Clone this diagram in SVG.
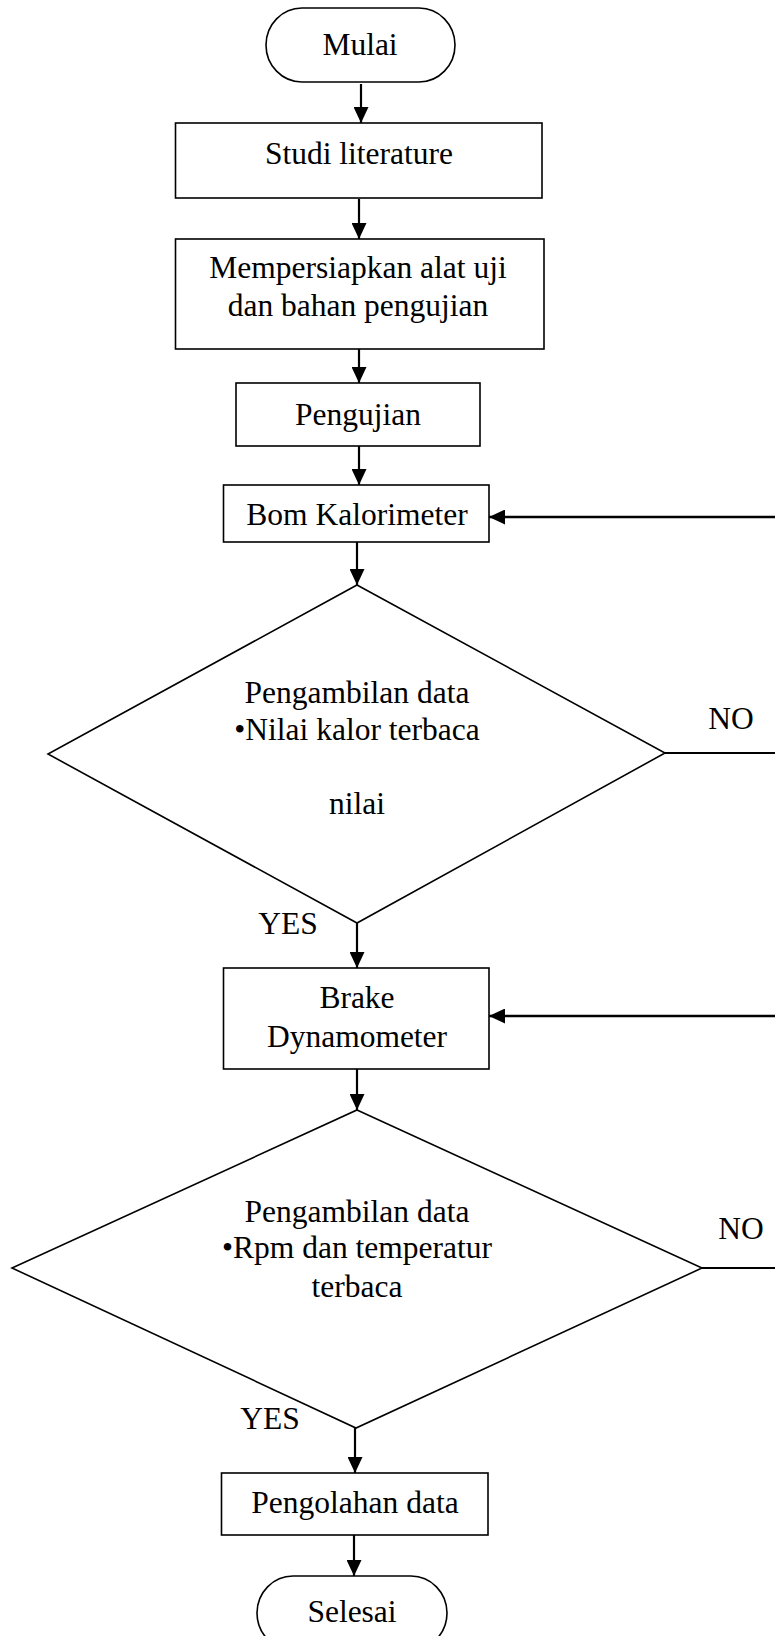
<svg xmlns="http://www.w3.org/2000/svg" width="775" height="1636" viewBox="0 0 775 1636">
<style>
.box{fill:#fff;stroke:#000;stroke-width:1.6}
.dia{fill:#fff;stroke:#000;stroke-width:1.6}
.t{font-family:"Liberation Serif","Times New Roman",serif;font-size:31.5px;fill:#000;text-anchor:middle}
.c{stroke:#000;stroke-width:2.2;fill:none}
.fb{stroke:#000;stroke-width:2.6;fill:none}
</style>
<defs>
<marker id="ah" markerUnits="userSpaceOnUse" markerWidth="16" markerHeight="15" refX="16" refY="7.5" orient="auto">
<path d="M0,0 L16,7.5 L0,15 z" fill="#000"/>
</marker>
</defs>
<rect width="775" height="1636" fill="#fff"/>
<g id="connectors">
<line class="c" x1="361" y1="84" x2="361" y2="123" marker-end="url(#ah)"/>
<line class="c" x1="359" y1="199" x2="359" y2="239" marker-end="url(#ah)"/>
<line class="c" x1="359" y1="349" x2="359" y2="383" marker-end="url(#ah)"/>
<line class="c" x1="359" y1="446" x2="359" y2="485" marker-end="url(#ah)"/>
<line class="c" x1="357" y1="542" x2="357" y2="585" marker-end="url(#ah)"/>
<line class="c" x1="357" y1="923" x2="357" y2="968" marker-end="url(#ah)"/>
<line class="c" x1="357" y1="1069" x2="357" y2="1110" marker-end="url(#ah)"/>
<line class="c" x1="355" y1="1428" x2="355" y2="1473" marker-end="url(#ah)"/>
<line class="c" x1="354" y1="1535" x2="354" y2="1576" marker-end="url(#ah)"/>
<line class="fb" x1="775" y1="517" x2="489" y2="517" marker-end="url(#ah)"/>
<line class="fb" x1="775" y1="1016" x2="489" y2="1016" marker-end="url(#ah)"/>
<line class="c" x1="665" y1="753" x2="775" y2="753"/>
<line class="c" x1="702" y1="1268" x2="775" y2="1268"/>
<text class="t" x="731" y="729">NO</text>
<text class="t" x="741" y="1239">NO</text>
<text class="t" x="288" y="934">YES</text>
<text class="t" x="270" y="1429">YES</text>
</g>
<g id="mulai">
<rect class="box" x="266" y="8" width="189" height="74" rx="36" ry="37"/>
<text class="t" x="360" y="55">Mulai</text>
</g>
<g id="studi">
<rect class="box" x="175.5" y="123" width="366.5" height="75"/>
<text class="t" x="359" y="164">Studi literature</text>
</g>
<g id="persiapan">
<rect class="box" x="175.5" y="239" width="368.5" height="110"/>
<text class="t" x="358" y="278">Mempersiapkan alat uji</text>
<text class="t" x="358" y="316">dan bahan pengujian</text>
</g>
<g id="pengujian">
<rect class="box" x="236" y="383" width="244" height="63"/>
<text class="t" x="358" y="425">Pengujian</text>
</g>
<g id="bom">
<rect class="box" x="223.5" y="485" width="265.5" height="57"/>
<text class="t" x="357" y="525">Bom Kalorimeter</text>
</g>
<g id="decision1">
<polygon class="dia" points="357,585 665,753 357,923 48,754"/>
<text class="t" x="357" y="703">Pengambilan data</text>
<text class="t" x="357" y="740">•Nilai kalor terbaca</text>
<text class="t" x="357" y="814">nilai</text>
</g>
<g id="brake">
<rect class="box" x="223.5" y="968" width="265.5" height="101"/>
<text class="t" x="357" y="1008">Brake</text>
<text class="t" x="357" y="1047">Dynamometer</text>
</g>
<g id="decision2">
<polygon class="dia" points="357,1110 702,1268 356,1428 12,1268"/>
<text class="t" x="357" y="1222">Pengambilan data</text>
<text class="t" x="357" y="1258">•Rpm dan temperatur</text>
<text class="t" x="357" y="1297">terbaca</text>
</g>
<g id="pengolahan">
<rect class="box" x="221.5" y="1473" width="266.5" height="62"/>
<text class="t" x="355" y="1513">Pengolahan data</text>
</g>
<g id="selesai">
<rect class="box" x="257" y="1576" width="190" height="74" rx="36" ry="37"/>
<text class="t" x="352" y="1622">Selesai</text>
</g>
</svg>
